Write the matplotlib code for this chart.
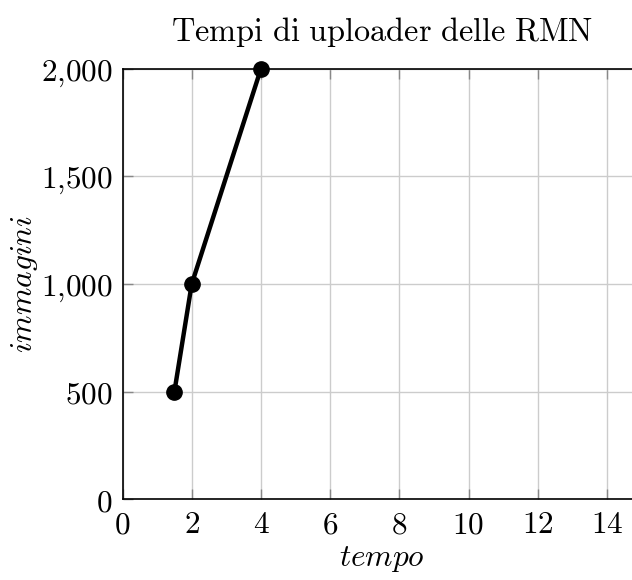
import matplotlib
matplotlib.use("Agg")
import matplotlib.pyplot as plt
from matplotlib.ticker import FuncFormatter, MultipleLocator

plt.rcParams['mathtext.fontset'] = 'cm'
plt.rcParams['font.family'] = 'serif'
plt.rcParams['font.serif'] = ['DejaVu Serif']

# dati
tempo = [1.5, 2, 4]
immagini = [500, 1000, 2000]

fig = plt.figure(figsize=(6.32, 5.80), dpi=100)
# asse destro esce leggermente dal quadro, come nell'originale
ax = fig.add_axes([122.5/632, 80.7/580, 519/632, 430.4/580])

ax.plot(tempo, immagini, color='black', lw=3.2, marker='o', markersize=11, zorder=3, clip_on=False)

ax.set_xlim(0, 15)
ax.set_ylim(0, 2000)
ax.xaxis.set_major_locator(MultipleLocator(2))
ax.yaxis.set_major_locator(MultipleLocator(500))

def fmt(v, pos):
    s = f"{int(round(v)):,}".replace(",", "{,}")
    return r"$%s$" % s

ax.xaxis.set_major_formatter(FuncFormatter(fmt))
ax.yaxis.set_major_formatter(FuncFormatter(fmt))

ax.grid(True, color='#cccccc', lw=1)
ax.set_axisbelow(True)
ax.tick_params(direction='in', length=7.5, width=1, color='#888888',
               top=True, right=True, labelsize=22.5)
ax.tick_params(axis='x', pad=7)
ax.tick_params(axis='y', pad=7)
for s in ax.spines.values():
    s.set_linewidth(1.2)
    s.set_color('black')

ax.set_title(r"$\mathrm{Tempi\ di\ uploader\ delle\ RMN}$", fontsize=23.3, pad=20)
ax.set_xlabel(r"$tempo$", fontsize=22.5, labelpad=2)
ax.set_ylabel(r"$immagini$", fontsize=22.5)
ax.yaxis.set_label_coords(-0.188, 0.5)
ax.yaxis.label.set_va('center')

fig.savefig("out.png", dpi=100)
